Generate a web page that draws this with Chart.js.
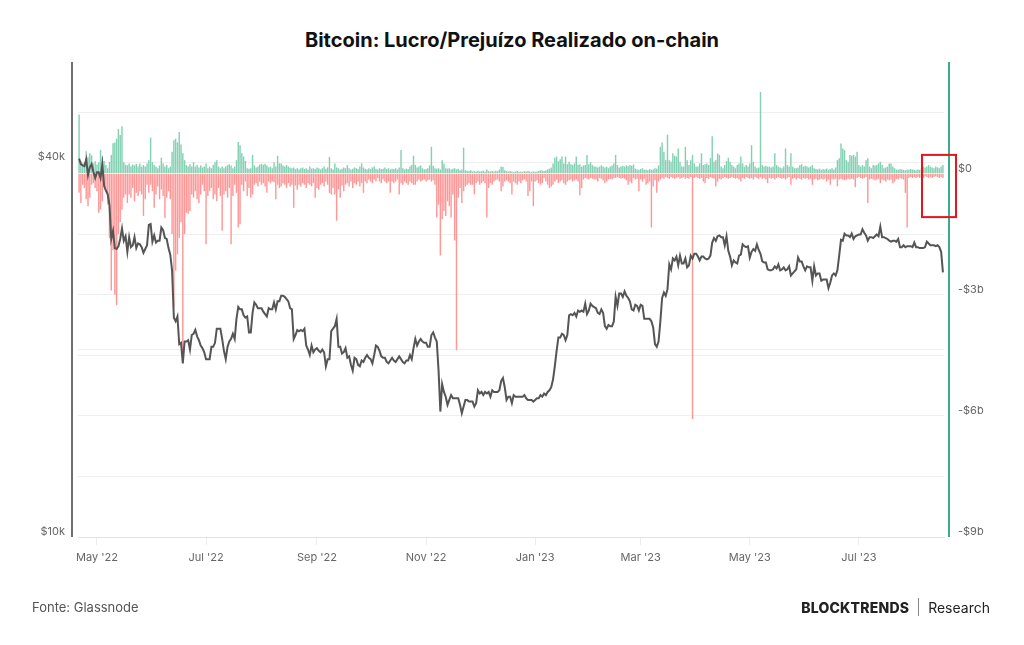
<!DOCTYPE html>
<html>
<head>
<meta charset="utf-8">
<script src="https://cdn.jsdelivr.net/npm/chart.js@4.4.0/dist/chart.umd.min.js"></script>
<style>
  body { margin: 0; width: 1024px; height: 645px; overflow: hidden; position: relative; background: #fff; font-family: Inter, "Noto Sans", sans-serif; }
  #title { position: absolute; top: 28px; left: 0; width: 1024px; text-align: center; font-size: 20px; line-height: 24px; font-weight: 700; color: #111; }
  #wrap { position: absolute; left: 0; top: 0; width: 1024px; height: 645px; }
  #source { position: absolute; left: 32px; top: 598px; font-size: 13px; line-height: 18px; color: #555; }
  #brand { position: absolute; right: 34px; top: 597px; height: 20px; display: flex; align-items: center; font-size: 14px; color: #222; }
  #brand b { font-weight: 800; letter-spacing: 0.2px; }
  #brand i { display: inline-block; width: 1px; height: 18px; background: #888; margin: 0 9px; }
</style>
</head>
<body>
<div id="title">Bitcoin: Lucro/Prejuízo Realizado on-chain</div>
<div id="wrap"><canvas id="chart" width="1024" height="645"></canvas></div>
<div id="source">Fonte: Glassnode</div>
<div id="brand"><b>BLOCKTRENDS</b><i></i><span>Research</span></div>
<script>
// daily series, first day = startDate
const startDate = '2022-04-21';

const tickDates = ['2022-05-01', '2022-07-01', '2022-09-01', '2022-11-01', '2023-01-01', '2023-03-01', '2023-05-01', '2023-07-01'];
const tickLabels = ["May '22", "Jul '22", "Sep '22", "Nov '22", "Jan '23", "Mar '23", "May '23", "Jul '23"];

const priceTicks = [10000, 20000, 40000];
const priceTickLabels = ['$10k', '', '$40k'];
const pnlTicks = [-9, -7.5, -6, -4.5, -3, -1.5, 0, 1.5];
const pnlTickLabels = ['-$9b', '', '-$6b', '', '-$3b', '', '$0', ''];

// BTC price, USD thousands (one line per month)
const price = [
  40.5, 39.7, 39.5, 39.4, 40.4, 38.1, 39.2, 39.7, 38.6, 37.7,
  38.5, 38.5, 37.7, 39.7, 36.6, 36.0, 35.5, 34.1, 30.1, 31.0, 29.1, 29.0, 29.3, 30.1, 31.3, 29.9, 30.4, 28.7, 30.3, 29.2, 29.4, 30.3, 29.1, 29.6, 29.5, 29.2, 28.6, 29.0, 29.4, 31.7, 31.8,
  29.8, 30.5, 29.7, 29.9, 29.9, 31.4, 31.1, 30.2, 30.1, 29.1, 28.4, 26.8, 22.5, 22.2, 22.6, 20.4, 20.5, 19.0, 20.6, 20.6, 20.7, 20.0, 21.1, 21.2, 21.5, 21.0, 20.7, 20.3, 20.1, 19.8,
  19.3, 19.3, 19.3, 20.2, 20.2, 20.5, 21.6, 21.6, 21.6, 20.8, 19.9, 19.3, 20.2, 20.6, 20.8, 21.2, 20.8, 22.4, 23.4, 23.2, 23.2, 22.7, 22.5, 22.6, 21.3, 21.3, 22.9, 23.8, 23.6, 23.3, 23.3,
  23.3, 23.0, 22.8, 22.6, 23.3, 23.2, 23.2, 23.8, 23.2, 23.9, 23.9, 24.4, 24.4, 24.3, 24.1, 23.9, 23.3, 23.2, 20.8, 21.1, 21.5, 21.4, 21.5, 21.4, 21.6, 20.3, 20.0, 19.6, 20.3, 19.8, 20.0,
  20.1, 19.9, 19.8, 20.0, 19.8, 18.8, 19.3, 19.3, 21.4, 21.6, 21.8, 22.4, 20.2, 20.2, 19.7, 19.8, 20.1, 19.4, 19.5, 18.9, 18.5, 19.4, 19.3, 18.9, 18.8, 19.2, 19.1, 19.4, 19.6, 19.4,
  19.3, 19.0, 19.6, 20.3, 20.2, 19.9, 19.5, 19.4, 19.4, 19.1, 19.0, 19.2, 19.4, 19.2, 19.1, 19.3, 19.5, 19.3, 19.1, 19.0, 19.2, 19.2, 19.6, 19.3, 20.1, 20.8, 20.3, 20.6, 20.8, 20.6, 20.5,
  20.5, 20.2, 20.2, 21.1, 21.3, 20.9, 20.6, 18.5, 15.9, 17.6, 17.1, 16.8, 16.3, 16.6, 16.9, 16.7, 16.7, 16.7, 16.7, 16.3, 15.8, 16.2, 16.6, 16.6, 16.5, 16.5, 16.5, 16.2, 16.4, 17.2,
  17.0, 17.1, 16.9, 17.1, 17.0, 17.1, 16.8, 17.2, 17.1, 17.1, 17.1, 17.2, 17.8, 18.0, 17.4, 16.6, 16.8, 16.8, 16.4, 16.9, 16.8, 16.8, 16.8, 16.8, 16.8, 16.9, 16.7, 16.6, 16.6, 16.6, 16.5,
  16.6, 16.7, 16.7, 16.9, 16.8, 17.0, 16.9, 17.1, 17.2, 17.4, 17.9, 18.8, 19.9, 20.9, 20.9, 21.2, 21.1, 20.7, 21.1, 22.7, 22.8, 22.7, 22.9, 22.6, 23.1, 23.0, 23.1, 23.0, 23.7, 22.8, 23.1,
  23.7, 23.5, 23.4, 23.3, 22.9, 22.8, 23.2, 22.9, 21.8, 21.6, 21.9, 21.8, 21.8, 22.2, 24.3, 23.5, 24.6, 24.6, 24.3, 24.8, 24.4, 24.2, 23.9, 23.2, 23.1, 23.6, 23.5, 23.1,
  23.6, 23.5, 22.4, 22.4, 22.4, 22.4, 22.2, 21.7, 20.4, 20.2, 20.6, 22.2, 24.2, 24.7, 24.4, 25.0, 27.4, 26.9, 28.0, 27.8, 28.2, 27.3, 28.3, 27.5, 27.5, 28.0, 27.1, 27.3, 28.3, 28.0, 28.5,
  28.5, 28.2, 27.8, 28.2, 28.2, 28.0, 27.9, 28.0, 28.3, 29.7, 30.2, 29.9, 30.4, 30.5, 30.3, 30.3, 29.4, 30.4, 28.8, 28.2, 27.3, 27.8, 27.6, 27.5, 28.3, 28.4, 29.5, 29.3, 29.2, 29.3,
  28.1, 28.7, 29.0, 28.8, 29.5, 28.9, 28.5, 27.7, 27.6, 27.6, 26.9, 26.8, 26.8, 26.9, 27.2, 27.0, 27.4, 26.8, 26.9, 27.1, 26.8, 26.9, 27.2, 26.3, 26.5, 26.7, 26.9, 28.1, 27.7, 27.7, 27.2,
  26.8, 27.2, 27.1, 27.1, 25.8, 27.2, 26.3, 26.5, 26.5, 25.8, 25.9, 25.9, 25.9, 25.1, 25.6, 26.3, 26.5, 26.3, 26.8, 28.3, 30.0, 29.9, 30.7, 30.5, 30.5, 30.3, 30.7, 30.1, 30.4, 30.5,
  30.6, 30.6, 31.2, 30.8, 30.5, 29.9, 30.3, 30.3, 30.2, 30.4, 30.6, 30.4, 31.5, 30.3, 30.3, 30.2, 30.1, 29.9, 29.8, 29.9, 29.9, 29.8, 30.1, 29.2, 29.2, 29.4, 29.2, 29.3, 29.3, 29.3, 29.2,
  29.7, 29.2, 29.2, 29.1, 29.1, 29.1, 29.2, 29.8, 29.6, 29.4, 29.4, 29.4, 29.3, 29.4, 29.2, 28.7, 26.6
];

// realized profit, USD billions
const realizedProfit = [
  1.46, 0.3, 0.25, 0.28, 0.55, 0.4, 0.5, 0.45, 0.25, 0.3,
  0.22, 0.28, 0.58, 0.42, 0.31, 0.21, 0.13, 0.29, 0.46, 0.75, 0.77, 0.86, 1.1, 0.95, 1.17, 0.28, 0.22, 0.2, 0.25, 0.18, 0.22, 0.2, 0.24, 0.17, 0.25, 0.17, 0.21, 0.17, 0.25, 0.33, 0.89,
  0.28, 0.21, 0.17, 0.13, 0.2, 0.39, 0.25, 0.17, 0.21, 0.13, 0.17, 0.54, 0.82, 0.86, 0.77, 1.03, 0.72, 0.5, 0.33, 0.21, 0.17, 0.23, 0.17, 0.28, 0.17, 0.21, 0.15, 0.2, 0.15, 0.17,
  0.25, 0.13, 0.17, 0.13, 0.21, 0.28, 0.33, 0.17, 0.13, 0.17, 0.13, 0.17, 0.21, 0.23, 0.2, 0.13, 0.17, 0.33, 0.78, 0.7, 0.5, 0.42, 0.31, 0.13, 0.12, 0.13, 0.46, 0.2, 0.15, 0.17, 0.22,
  0.24, 0.21, 0.24, 0.2, 0.15, 0.17, 0.13, 0.28, 0.17, 0.44, 0.25, 0.25, 0.2, 0.17, 0.21, 0.17, 0.15, 0.13, 0.15, 0.11, 0.13, 0.1, 0.13, 0.15, 0.11, 0.13, 0.1, 0.17, 0.12, 0.13, 0.11,
  0.15, 0.13, 0.1, 0.13, 0.17, 0.12, 0.15, 0.41, 0.13, 0.1, 0.25, 0.15, 0.13, 0.1, 0.12, 0.15, 0.13, 0.21, 0.13, 0.1, 0.12, 0.15, 0.13, 0.11, 0.17, 0.25, 0.15, 0.12, 0.1, 0.13,
  0.11, 0.15, 0.17, 0.12, 0.1, 0.13, 0.11, 0.12, 0.15, 0.11, 0.13, 0.1, 0.12, 0.11, 0.13, 0.1, 0.15, 0.58, 0.13, 0.1, 0.12, 0.11, 0.17, 0.21, 0.44, 0.21, 0.15, 0.17, 0.2, 0.13, 0.1,
  0.11, 0.13, 0.2, 0.66, 0.19, 0.13, 0.12, 0.13, 0.1, 0.33, 0.25, 0.13, 0.12, 0.13, 0.1, 0.12, 0.13, 0.1, 0.12, 0.08, 0.1, 0.64, 0.08, 0.07, 0.06, 0.08, 0.05, 0.06, 0.05, 0.07,
  0.05, 0.06, 0.07, 0.05, 0.1, 0.06, 0.05, 0.06, 0.05, 0.07, 0.06, 0.1, 0.17, 0.16, 0.08, 0.06, 0.05, 0.06, 0.05, 0.04, 0.05, 0.06, 0.04, 0.05, 0.04, 0.06, 0.05, 0.06, 0.05, 0.04, 0.05,
  0.04, 0.05, 0.06, 0.08, 0.07, 0.06, 0.08, 0.1, 0.12, 0.15, 0.25, 0.39, 0.42, 0.3, 0.35, 0.42, 0.25, 0.42, 0.23, 0.29, 0.23, 0.21, 0.25, 0.42, 0.21, 0.23, 0.17, 0.2, 0.21, 0.46, 0.23,
  0.28, 0.21, 0.17, 0.17, 0.15, 0.17, 0.2, 0.17, 0.15, 0.17, 0.13, 0.17, 0.2, 0.25, 0.46, 0.21, 0.15, 0.17, 0.19, 0.17, 0.2, 0.18, 0.21, 0.19, 0.22, 0.12, 0.1, 0.09,
  0.11, 0.13, 0.09, 0.1, 0.08, 0.11, 0.09, 0.1, 0.13, 0.12, 0.2, 0.66, 0.77, 0.54, 0.33, 0.96, 0.33, 0.29, 0.5, 0.44, 0.42, 0.62, 0.29, 0.17, 0.17, 0.66, 0.33, 0.21, 0.33, 0.46, 0.25,
  0.17, 0.17, 0.25, 0.5, 0.21, 0.23, 0.25, 0.21, 0.38, 0.92, 0.29, 0.33, 0.5, 0.46, 0.17, 0.13, 0.21, 0.31, 0.39, 0.29, 0.21, 0.17, 0.13, 0.21, 0.25, 0.42, 0.25, 0.17, 0.21, 0.17,
  0.25, 0.7, 0.29, 0.17, 0.13, 0.15, 2.02, 0.21, 0.17, 0.19, 0.17, 0.17, 0.15, 0.17, 0.5, 0.21, 0.17, 0.15, 0.13, 0.17, 0.62, 0.21, 0.17, 0.5, 0.17, 0.13, 0.13, 0.15, 0.21, 0.23, 0.17,
  0.19, 0.17, 0.15, 0.17, 0.21, 0.13, 0.11, 0.1, 0.12, 0.09, 0.11, 0.1, 0.12, 0.09, 0.11, 0.13, 0.1, 0.15, 0.33, 0.38, 0.74, 0.62, 0.58, 0.33, 0.29, 0.46, 0.44, 0.46, 0.42, 0.54,
  0.21, 0.17, 0.21, 0.17, 0.33, 0.38, 0.17, 0.13, 0.21, 0.2, 0.21, 0.25, 0.29, 0.21, 0.13, 0.15, 0.17, 0.25, 0.25, 0.17, 0.13, 0.1, 0.09, 0.11, 0.1, 0.09, 0.08, 0.1, 0.09, 0.11, 0.1,
  0.09, 0.08, 0.1, 0.09, 0.13, 0.17, 0.15, 0.17, 0.21, 0.17, 0.15, 0.13, 0.17, 0.15, 0.13, 0.17, 0.21
];

// realized loss, USD billions (size of the loss)
const realizedLoss = [
  0.48, 0.73, 0.28, 0.36, 0.64, 0.81, 0.6, 0.28, 0.24, 0.36,
  0.44, 0.97, 0.89, 0.69, 0.32, 0.4, 0.77, 1.6, 2.9, 1.9, 3.0, 3.26, 1.5, 1.2, 0.9, 0.6, 0.52, 0.73, 0.52, 0.6, 0.36, 0.69, 0.48, 0.56, 0.44, 0.52, 1.05, 0.64, 0.28, 0.48, 0.28,
  0.44, 0.85, 0.52, 0.32, 0.64, 0.4, 0.56, 1.1, 0.6, 0.44, 0.64, 1.5, 3.3, 2.4, 2.0, 1.6, 1.2, 4.68, 1.5, 0.97, 1.0, 0.93, 0.52, 0.6, 0.44, 0.64, 0.73, 0.52, 0.28, 0.44,
  1.75, 0.56, 0.44, 0.36, 0.64, 0.52, 0.69, 0.36, 0.56, 1.42, 0.52, 0.44, 0.6, 0.36, 1.75, 0.56, 0.28, 0.48, 1.34, 1.26, 0.28, 0.44, 0.2, 0.56, 0.36, 0.6, 0.52, 0.28, 0.24, 0.32, 0.2,
  0.28, 0.24, 0.32, 0.48, 0.2, 0.24, 0.2, 0.22, 0.64, 0.28, 0.36, 0.32, 0.24, 0.28, 0.36, 0.24, 0.32, 0.28, 0.85, 0.3, 0.4, 0.28, 0.32, 0.24, 0.28, 0.36, 0.24, 0.28, 0.32, 0.24, 0.6,
  0.36, 0.4, 0.28, 0.24, 0.32, 0.2, 0.28, 0.48, 0.52, 0.36, 0.52, 1.17, 0.4, 0.6, 0.3, 0.44, 0.28, 0.24, 0.32, 0.2, 0.36, 0.24, 0.28, 0.2, 0.32, 0.24, 0.48, 0.2, 0.24, 0.15,
  0.2, 0.24, 0.15, 0.2, 0.11, 0.2, 0.24, 0.15, 0.2, 0.24, 0.2, 0.48, 0.2, 0.24, 0.2, 0.15, 0.52, 0.24, 0.28, 0.2, 0.24, 0.28, 0.2, 0.24, 0.28, 0.28, 0.2, 0.15, 0.2, 0.17, 0.15,
  0.2, 0.17, 0.15, 0.2, 0.17, 0.28, 1.09, 0.77, 2.03, 1.13, 0.93, 1.05, 0.69, 0.81, 1.09, 0.52, 1.66, 4.37, 0.6, 0.36, 0.73, 0.44, 0.32, 0.28, 0.24, 0.28, 0.28, 0.52, 0.24, 0.2,
  0.28, 0.24, 0.2, 0.24, 1.09, 0.36, 0.24, 0.28, 0.2, 0.17, 0.15, 0.2, 0.44, 0.32, 0.2, 0.17, 0.2, 0.24, 0.52, 0.2, 0.24, 0.28, 0.2, 0.24, 0.17, 0.15, 0.2, 0.56, 0.44, 0.2, 0.81,
  0.2, 0.17, 0.24, 0.28, 0.24, 0.11, 0.2, 0.28, 0.36, 0.32, 0.28, 0.2, 0.15, 0.24, 0.2, 0.17, 0.24, 0.28, 0.2, 0.17, 0.15, 0.2, 0.17, 0.15, 0.2, 0.54, 0.36, 0.15, 0.11, 0.13, 0.15,
  0.11, 0.13, 0.15, 0.15, 0.2, 0.11, 0.13, 0.17, 0.24, 0.2, 0.15, 0.13, 0.15, 0.11, 0.11, 0.09, 0.11, 0.13, 0.11, 0.13, 0.17, 0.28, 0.2, 0.24, 0.11, 0.15, 0.13, 0.44,
  0.15, 0.2, 0.13, 0.28, 0.24, 0.2, 1.34, 0.32, 0.17, 0.48, 0.2, 0.15, 0.11, 0.13, 0.09, 0.11, 0.13, 0.09, 0.11, 0.13, 0.11, 0.09, 0.13, 0.11, 0.09, 0.13, 0.11, 0.13, 0.09, 6.08, 0.11,
  0.09, 0.11, 0.13, 0.11, 0.2, 0.24, 0.11, 0.13, 0.09, 0.11, 0.13, 0.32, 0.2, 0.13, 0.15, 0.11, 0.09, 0.11, 0.13, 0.11, 0.09, 0.11, 0.13, 0.11, 0.15, 0.2, 0.11, 0.13, 0.09, 0.11,
  0.13, 0.11, 0.15, 0.09, 0.11, 0.13, 0.09, 0.13, 0.11, 0.15, 0.24, 0.11, 0.13, 0.11, 0.15, 0.11, 0.09, 0.11, 0.13, 0.11, 0.15, 0.11, 0.09, 0.28, 0.13, 0.11, 0.15, 0.11, 0.13, 0.15, 0.11,
  0.13, 0.11, 0.15, 0.13, 0.28, 0.15, 0.13, 0.17, 0.15, 0.13, 0.15, 0.13, 0.2, 0.15, 0.28, 0.13, 0.15, 0.13, 0.32, 0.15, 0.13, 0.15, 0.17, 0.15, 0.13, 0.15, 0.13, 0.15, 0.34, 0.11,
  0.09, 0.11, 0.13, 0.11, 0.09, 0.73, 0.15, 0.13, 0.15, 0.17, 0.15, 0.13, 0.24, 0.15, 0.17, 0.2, 0.15, 0.17, 0.15, 0.24, 0.2, 0.13, 0.15, 0.11, 0.13, 0.15, 0.48, 1.34, 0.11, 0.09, 0.11,
  0.09, 0.11, 0.09, 0.11, 0.09, 0.11, 0.07, 0.09, 0.11, 0.09, 0.11, 0.09, 0.07, 0.09, 0.11, 0.09, 0.11
];

// red highlight box (day index / $b on the right axis)
const highlight = { from: 471.3, to: 490.3, top: 0.46, bottom: -1.08 };

const DAY = 86400000;
function dayIndex(d) {
  return Math.round((Date.parse(d) - Date.parse(startDate)) / DAY);
}

const tickFont = { family: 'Inter', size: 11 };
const gridColor = '#efefef';

const framePlugin = {
  id: 'frame',
  afterDraw(chart) {
    const { ctx, chartArea: a, scales } = chart;
    ctx.save();
    ctx.lineWidth = 2;
    ctx.strokeStyle = '#6e6e6e';
    ctx.beginPath();
    ctx.moveTo(a.left - 6, a.top);
    ctx.lineTo(a.left - 6, a.bottom);
    ctx.stroke();
    ctx.strokeStyle = '#3aae88';
    ctx.beginPath();
    ctx.moveTo(a.right + 5, a.top);
    ctx.lineTo(a.right + 5, a.bottom);
    ctx.stroke();

    const x0 = scales.x.getPixelForValue(highlight.from);
    const x1 = scales.x.getPixelForValue(highlight.to);
    const y0 = scales.pnl.getPixelForValue(highlight.top);
    const y1 = scales.pnl.getPixelForValue(highlight.bottom);
    ctx.strokeStyle = '#e8141b';
    ctx.strokeRect(x0, y0, x1 - x0, y1 - y0);
    ctx.restore();
  }
};

const n = price.length;
const priceData = price.map((v, i) => ({ x: i, y: v * 1000 }));
const profitData = realizedProfit.map((v, i) => ({ x: i, y: v }));
const lossData = realizedLoss.map((v, i) => ({ x: i, y: -v }));

new Chart(document.getElementById('chart').getContext('2d'), {
  type: 'bar',
  data: {
    datasets: [
      {
        type: 'line',
        label: 'Preço',
        data: priceData,
        yAxisID: 'price',
        borderColor: '#555555',
        borderWidth: 2,
        pointRadius: 0,
        tension: 0,
        order: 0
      },
      {
        label: 'Lucro realizado',
        data: profitData,
        yAxisID: 'pnl',
        backgroundColor: '#84d0b3',
        barPercentage: 0.8,
        categoryPercentage: 1,
        order: 1
      },
      {
        label: 'Prejuízo realizado',
        data: lossData,
        yAxisID: 'pnl',
        backgroundColor: '#ff9797',
        barPercentage: 0.8,
        categoryPercentage: 1,
        order: 1
      }
    ]
  },
  options: {
    responsive: false,
    animation: false,
    events: [],
    layout: { padding: { top: 62, bottom: 78, left: 0, right: 0 } },
    plugins: { legend: { display: false }, tooltip: { enabled: false } },
    scales: {
      x: {
        type: 'linear',
        stacked: true,
        offset: false,
        min: -0.6,
        max: n - 0.4,
        afterBuildTicks: s => { s.ticks = tickDates.map(d => ({ value: dayIndex(d) })); },
        afterFit: s => { s.height = 30; },
        ticks: {
          autoSkip: false,
          maxRotation: 0,
          padding: 6,
          color: '#666',
          font: tickFont,
          callback: (v, i) => tickLabels[i]
        },
        grid: { offset: false, drawOnChartArea: false, drawTicks: true, tickLength: 8, tickColor: '#ececec' },
        border: { display: true, color: '#e2e2e2', width: 1 }
      },
      price: {
        type: 'logarithmic',
        position: 'left',
        min: 10000,
        max: 57900,
        afterBuildTicks: s => { s.ticks = priceTicks.map(v => ({ value: v })); },
        afterFit: s => { s.width = 78; },
        ticks: {
          padding: 13,
          labelOffset: -5,
          color: '#666',
          font: tickFont,
          callback: (v, i) => priceTickLabels[i]
        },
        grid: { color: gridColor, drawTicks: false },
        border: { display: false }
      },
      pnl: {
        type: 'linear',
        position: 'right',
        stacked: true,
        min: -9,
        max: 2.76,
        afterBuildTicks: s => { s.ticks = pnlTicks.map(v => ({ value: v })); },
        afterFit: s => { s.width = 80; },
        ticks: {
          padding: 14,
          labelOffset: -5,
          color: '#666',
          font: tickFont,
          callback: (v, i) => pnlTickLabels[i]
        },
        grid: { color: gridColor, drawTicks: false },
        border: { display: false }
      }
    }
  },
  plugins: [framePlugin]
});
</script>
</body>
</html>
